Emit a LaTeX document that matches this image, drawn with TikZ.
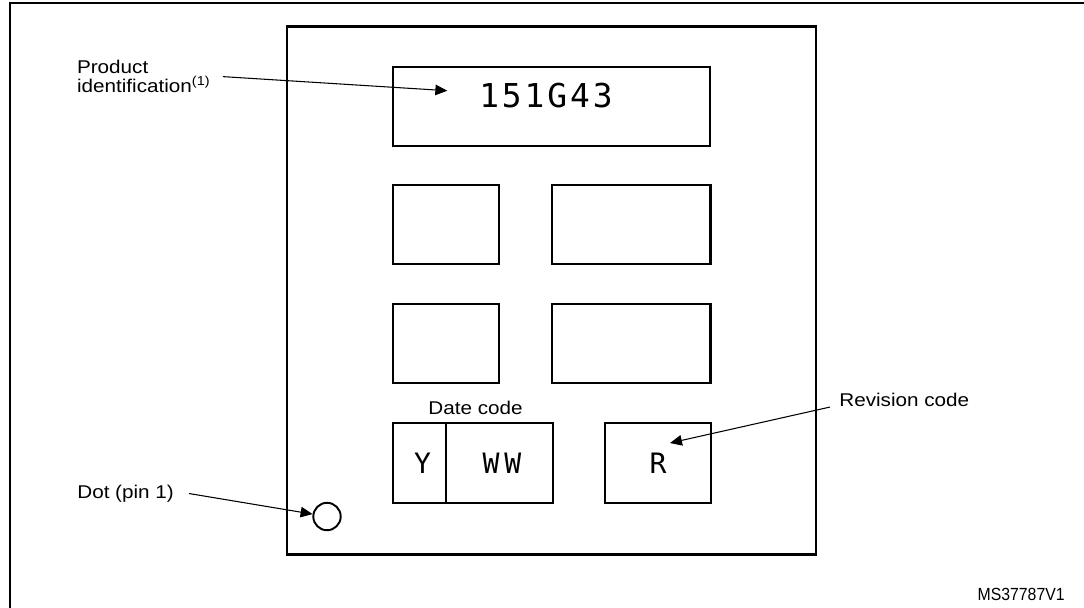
\documentclass[tikz,border=0pt]{standalone}
\usepackage{fontspec}
\setmainfont{Liberation Sans}[FakeStretch=1.12]
\newfontfamily\narrowfont{Liberation Sans}[FakeStretch=0.9]
\newfontfamily\markfont{DejaVu Sans Mono}[LetterSpace=9]
\usetikzlibrary{positioning,arrows.meta}
\tikzset{
    mark box/.style={
        draw,line width=1.3pt,
        anchor=north west,inner sep=0pt,outer sep=0pt,
        minimum height=1.58cm
    },
    mark text/.style={font=\markfont\fontsize{16}{16}\selectfont,inner sep=0pt},
    callout/.style={font=\fontsize{10.5}{10.8}\selectfont,inner sep=0pt},
    >={Triangle[length=6.8pt,width=6pt]},
    pointer/.style={->,line width=0.6pt},
}

\begin{document}
\begin{tikzpicture}
		\useasboundingbox (0,0) rectangle (21.68,-12.14);
		\draw[line width=1.2pt] (21.9,-0.068) -| (0.206,-12.3);
		\node[draw,line width=1.6pt,anchor=north west,inner sep=0pt,outer sep=0pt,
		      minimum width=10.58cm,minimum height=10.56cm] (chip) at (5.74,-0.535) {};

		\node[mark box,minimum width=6.34cm] (idbox) at (7.86,-1.34) {};
		\node[mark text,font=\markfont\fontsize{18.7}{18.7}\selectfont] (idtext) at (10.92,-1.92) {151G43};
		\foreach \name/\x/\y/\w in {left1/7.86/-3.70/2.12,right1/11.04/-3.70/3.17,left2/7.86/-6.08/2.12,right2/11.04/-6.08/3.17}
		\node[mark box,minimum width=\w cm] (\name) at (\x,\y) {};

		\node[mark box,minimum width=1.06cm,minimum height=1.6cm] (year) at (7.86,-8.46) {};
		\node[mark box,minimum width=2.14cm,minimum height=1.6cm] (week) at (year.north east) {};
		\node[mark box,minimum width=2.12cm,minimum height=1.6cm] (rev) at (12.1,-8.46) {};
		\node[mark text] (ytext) at ([xshift=0.06cm]year.center) {Y};
		\node[mark text] (wtext) at ([xshift=0.05cm]week.center) {W\,W};
		\node[mark text] (rtext) at (rev.center) {R};
		\node[callout,anchor=base] (datelabel) at (9.51,-8.28) {Date code};

		\node[draw,circle,line width=1.1pt,minimum size=0.548cm,inner sep=0pt] (dot) at (6.54,-10.33) {};

		\node[callout,align=left,anchor=north west] (prod) at (1.534,-1.2) {Product\\identification\textsuperscript{(1)}};
		\node[callout,anchor=base west] (dotlabel) at (1.54,-9.966) {Dot (pin 1)};
		\node[callout,anchor=base west] (revlabel) at (16.78,-8.13) {Revision code};
		\node[inner sep=0pt,font=\narrowfont\fontsize{10}{10}\selectfont,anchor=base east] (msnum) at (21.3,-12.0) {MS37787V1};

		\coordinate (idtip) at (8.946,-1.814);
		\coordinate (revtip) at (13.4,-8.86);
		\draw[pointer] ([xshift=0.24cm]prod.east) -- (idtip);
		\draw[pointer] ([xshift=0.3cm]dotlabel.east) -- (dot);
		\draw[pointer] ([xshift=-0.18cm]revlabel.south west) -- (revtip);
	\end{tikzpicture}
\end{document}
